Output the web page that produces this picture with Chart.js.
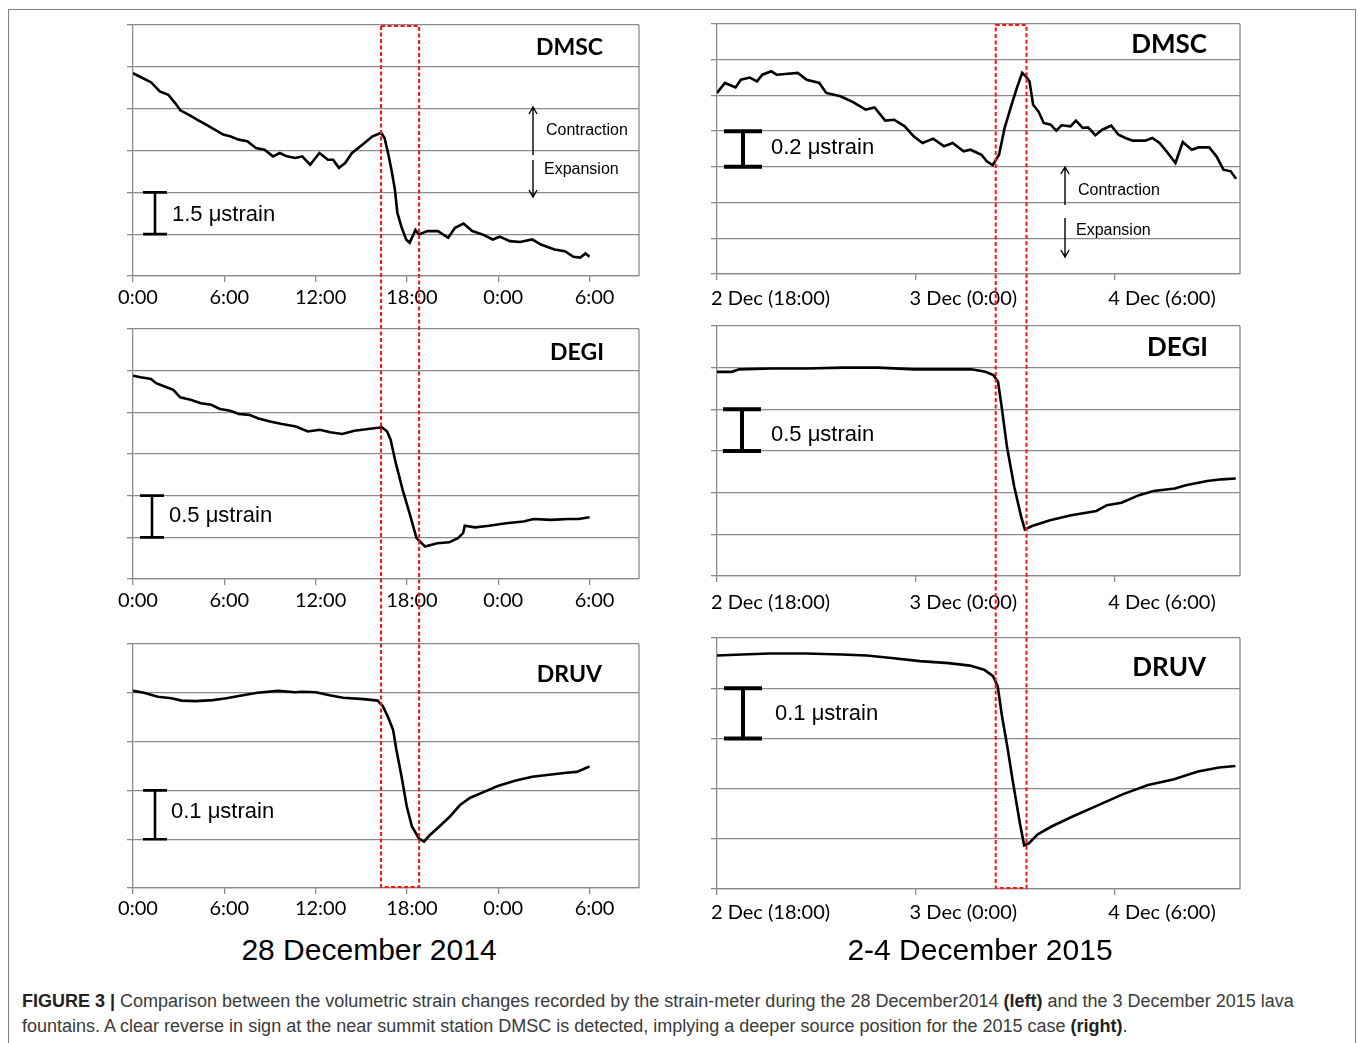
<!DOCTYPE html>
<html>
<head>
<meta charset="utf-8">
<script src="https://cdn.jsdelivr.net/npm/chart.js@4.4.0/dist/chart.umd.min.js"></script>
<style>
  body { margin: 0; background: #fff; width: 1358px; height: 1043px; overflow: hidden; position: relative;
         font-family: "Liberation Sans", Arial, sans-serif; }
  .frame { position: absolute; left: 8px; top: 9px; width: 1346px; height: 1100px; border: 1.5px solid #808080; }
  .panel { position: absolute; }
  .date { position: absolute; top: 933px; width: 400px; text-align: center; font-size: 30px; color: #000; }
  .cap { position: absolute; left: 22px; font-size: 18px; color: #3a3a3a; white-space: nowrap; }
  .cap b { color: #222; }
  #overlay { position: absolute; left: 0; top: 0; z-index: 5; pointer-events: none; }
</style>
</head>
<body>
<div class="frame"></div>
<div id="panels"></div>
<canvas id="overlay" width="1358" height="1043"></canvas>
<div class="date" style="left:169px">28 December 2014</div>
<div class="date" style="left:780px">2-4 December 2015</div>
<div class="cap" style="top:991px"><b>FIGURE 3 |</b> Comparison between the volumetric strain changes recorded by the strain-meter during the 28 December2014 <b>(left)</b> and the 3 December 2015 lava</div>
<div class="cap" style="top:1016px">fountains. A clear reverse in sign at the near summit station DMSC is detected, implying a deeper source position for the 2015 case <b>(right)</b>.</div>
<script>
// hours since 28 Dec 2014 0:00 (left column) and since 2 Dec 2015 18:00 (right column); strain in microstrain above the panel floor
var ticks2014 = ['0:00', '6:00', '12:00', '18:00', '0:00', '6:00']
var ticks2015 = ['2 Dec (18:00)', '3 Dec (0:00)', '4 Dec (6:00)']

var dmsc2014Hours = [0, 0.63, 1.2, 1.76, 2.32, 2.77, 3.11, 3.68, 4.24, 4.8,
  5.37, 5.93, 6.38, 6.95, 7.51, 8.08, 8.64, 9.2, 9.65, 10.11,
  10.67, 11.12, 11.64, 12.25, 12.81, 13.15, 13.53, 13.94, 14.39, 15.07,
  15.74, 16.31, 16.53, 16.76, 16.98, 17.21, 17.37, 17.66, 17.95, 18.18,
  18.56, 18.79, 19.35, 20.03, 20.71, 21.16, 21.72, 22.29, 22.96, 23.64,
  24.09, 24.77, 25.44, 26.23, 26.8, 27.7, 28.38, 28.94, 29.39, 29.73, 30]
var dmsc2014Strain = [7.27, 7.10, 6.94, 6.62, 6.50, 6.20, 5.94, 5.78, 5.60, 5.43,
  5.25, 5.07, 5.01, 4.89, 4.83, 4.59, 4.53, 4.29, 4.41, 4.29,
  4.23, 4.29, 3.99, 4.41, 4.17, 4.17, 3.88, 4.05, 4.41, 4.71,
  5.01, 5.13, 4.95, 4.41, 3.82, 3.10, 2.27, 1.73, 1.31, 1.19,
  1.65, 1.49, 1.61, 1.61, 1.37, 1.73, 1.88, 1.61, 1.49, 1.31,
  1.41, 1.25, 1.22, 1.31, 1.13, 0.95, 0.89, 0.69, 0.66, 0.81, 0.69]

var degi2014Hours = [0, 0.5, 1.18, 1.52, 2.08, 2.65, 3.1, 3.78, 4.46, 5.14,
  5.71, 6.39, 6.96, 7.64, 8.2, 9.0, 9.79, 10.7, 11.49, 12.28,
  12.96, 13.75, 14.55, 15.45, 16.36, 16.7, 16.93, 17.27, 17.72, 18.17,
  18.63, 19.19, 19.99, 20.78, 21.35, 21.69, 21.8, 22.48, 23.39, 24.52,
  25.65, 26.33, 27.46, 28.6, 29.28, 30]
var degi2014Strain = [2.44, 2.42, 2.40, 2.35, 2.31, 2.27, 2.18, 2.15, 2.11, 2.09,
  2.04, 2.02, 1.98, 1.97, 1.93, 1.89, 1.86, 1.83, 1.77, 1.79,
  1.76, 1.74, 1.78, 1.80, 1.82, 1.77, 1.67, 1.39, 1.07, 0.79,
  0.49, 0.39, 0.43, 0.44, 0.49, 0.55, 0.64, 0.62, 0.64, 0.67,
  0.69, 0.72, 0.71, 0.72, 0.72, 0.74]

var druv2014Hours = [0, 0.72, 1.63, 2.53, 3.2, 4.11, 5.24, 6.14, 7.04, 8.17,
  9.52, 10.65, 11.1, 12.01, 12.91, 13.81, 15.17, 16.07, 16.41, 16.75,
  17.09, 17.31, 17.65, 17.99, 18.33, 18.78, 19.12, 19.46, 20.13, 20.81,
  21.49, 22.16, 23.07, 23.97, 25.1, 26.23, 27.35, 28.48, 29.16, 30]
var druv2014Strain = [0.404, 0.400, 0.392, 0.389, 0.384, 0.383, 0.385, 0.389, 0.394, 0.400,
  0.404, 0.401, 0.402, 0.401, 0.395, 0.390, 0.387, 0.384, 0.373, 0.351,
  0.324, 0.283, 0.228, 0.167, 0.126, 0.102, 0.095, 0.107, 0.126, 0.146,
  0.170, 0.185, 0.197, 0.209, 0.220, 0.228, 0.232, 0.236, 0.238, 0.249]

var dmsc2015Hours = [0, 0.24, 0.56, 0.72, 0.99, 1.21, 1.37, 1.64, 1.8, 2.07,
  2.44, 2.71, 3.09, 3.3, 3.73, 4.11, 4.49, 4.76, 5.08, 5.35,
  5.67, 5.94, 6.21, 6.53, 6.86, 7.12, 7.45, 7.66, 7.99, 8.15,
  8.33, 8.52, 8.69, 8.9, 9.06, 9.22, 9.33, 9.44, 9.55, 9.71,
  9.87, 10.08, 10.25, 10.41, 10.68, 10.84, 11.05, 11.21, 11.43, 11.64,
  11.91, 12.13, 12.34, 12.56, 12.94, 13.15, 13.37, 13.58, 13.85, 14.07,
  14.34, 14.55, 14.87, 15.09, 15.3, 15.52, 15.68]
var dmsc2015Strain = [1.014, 1.07, 1.045, 1.088, 1.10, 1.079, 1.116, 1.135, 1.116, 1.12,
  1.126, 1.088, 1.07, 1.014, 0.995, 0.963, 0.92, 0.933, 0.859, 0.864,
  0.827, 0.771, 0.734, 0.758, 0.715, 0.734, 0.687, 0.696, 0.668, 0.631,
  0.609, 0.668, 0.818, 0.948, 1.042, 1.126, 1.107, 1.079, 0.948, 0.911,
  0.846, 0.836, 0.803, 0.833, 0.827, 0.859, 0.818, 0.821, 0.777, 0.808,
  0.831, 0.78, 0.762, 0.747, 0.747, 0.762, 0.734, 0.687, 0.622, 0.739,
  0.696, 0.709, 0.709, 0.659, 0.584, 0.575, 0.534]

var degi2015Hours = [0, 0.45, 0.67, 1.64, 2.72, 3.8, 4.88, 5.96, 7.04, 7.68,
  8.11, 8.35, 8.49, 8.6, 8.76, 8.98, 9.19, 9.3, 9.52, 10.06,
  10.7, 11.46, 11.78, 12.22, 12.75, 13.19, 13.83, 14.16, 14.81, 15.24, 15.67]
var degi2015Strain = [2.45, 2.45, 2.48, 2.49, 2.49, 2.50, 2.50, 2.48, 2.48, 2.48,
  2.45, 2.41, 2.33, 2.03, 1.55, 1.07, 0.71, 0.56, 0.60, 0.67,
  0.73, 0.78, 0.85, 0.88, 0.97, 1.02, 1.05, 1.09, 1.14, 1.16, 1.17]

var druv2015Hours = [0, 0.75, 1.61, 2.69, 3.77, 4.52, 5.27, 6.13, 7.0, 7.64,
  8.07, 8.34, 8.48, 8.61, 8.77, 8.93, 9.15, 9.28, 9.42, 9.69,
  10.12, 10.76, 11.52, 12.27, 13.02, 13.78, 14.53, 15.17, 15.66]
var druv2015Strain = [0.465, 0.467, 0.469, 0.469, 0.467, 0.465, 0.460, 0.454, 0.450, 0.445,
  0.437, 0.424, 0.404, 0.344, 0.284, 0.217, 0.131, 0.087, 0.091, 0.109,
  0.125, 0.145, 0.167, 0.189, 0.207, 0.218, 0.234, 0.242, 0.245]

// lava fountain windows (hours), drawn as the red dashed boxes
var fountain2014 = [16.3, 18.8]
var fountain2015 = [8.42, 9.35]

var GRID = '#8a8a8a'

// plot boxes are [left, top, right, bottom] in page pixels
var panels = [
  { hours: dmsc2014Hours, vals: dmsc2014Strain, box: [133, 25, 639, 276], xMax: 33.25, yMax: 9, yStep: 1.5,
    labels: ticks2014, align: 'center', offset: 5, pad: 4,
    ann: { name: 'DMSC', nameSize: 23, nameAt: [470, 23], barX: 22, barFrom: 1.5, barTo: 3.0, cap: 12, barW: 2.6,
           barLabel: '1.5 \u03bcstrain', labelAt: [39, 190],
           arrows: { x: 400, up: [130, 82], down: [135, 172], contraction: [413, 106], expansion: [411, 145] } } },
  { hours: degi2014Hours, vals: degi2014Strain, box: [133, 329, 639, 579], xMax: 33.25, yMax: 3, yStep: 0.5,
    labels: ticks2014, align: 'center', offset: 5, pad: 4,
    ann: { name: 'DEGI', nameSize: 23, nameAt: [471, 24], barX: 19, barFrom: 0.5, barTo: 1.0, cap: 12, barW: 2.6,
           barLabel: '0.5 \u03bcstrain', labelAt: [36, 187] } },
  { hours: druv2014Hours, vals: druv2014Strain, box: [133, 644, 639, 888], xMax: 33.25, yMax: 0.5, yStep: 0.1,
    labels: ticks2014, align: 'center', offset: 5, pad: 3,
    ann: { name: 'DRUV', nameSize: 23, nameAt: [469, 31], barX: 22, barFrom: 0.1, barTo: 0.2, cap: 12, barW: 2.6,
           barLabel: '0.1 \u03bcstrain', labelAt: [38, 168] } },
  { hours: dmsc2015Hours, vals: dmsc2015Strain, box: [717, 24, 1240, 274], xMax: 15.8, yMax: 1.4, yStep: 0.2,
    labels: ticks2015, align: 'start', offset: -6, pad: 7,
    ann: { name: 'DMSC', nameSize: 26, nameAt: [490, 21], barX: 26, barFrom: 0.6, barTo: 0.8, cap: 19, barW: 4,
           barLabel: '0.2 \u03bcstrain', labelAt: [54, 124],
           arrows: { x: 348, up: [181, 143], down: [194, 233], contraction: [361, 167], expansion: [359, 207] } } },
  { hours: degi2015Hours, vals: degi2015Strain, box: [717, 326, 1240, 576], xMax: 15.8, yMax: 3, yStep: 0.5,
    labels: ticks2015, align: 'start', offset: -6, pad: 9,
    ann: { name: 'DEGI', nameSize: 26, nameAt: [491, 22], barX: 25, barFrom: 1.5, barTo: 2.0, cap: 19, barW: 4,
           barLabel: '0.5 \u03bcstrain', labelAt: [54, 109] } },
  { hours: druv2015Hours, vals: druv2015Strain, box: [717, 638, 1240, 889], xMax: 15.8, yMax: 0.5, yStep: 0.1,
    labels: ticks2015, align: 'start', offset: -6, pad: 6,
    ann: { name: 'DRUV', nameSize: 26, nameAt: [489, 30], barX: 26, barFrom: 0.3, barTo: 0.4, cap: 19, barW: 4,
           barLabel: '0.1 \u03bcstrain', labelAt: [58, 76] } }
]

function arrow(ctx, x, y0, y1) {
  var d = y1 < y0 ? 1 : -1
  ctx.beginPath()
  ctx.moveTo(x, y0); ctx.lineTo(x, y1)
  ctx.moveTo(x - 4, y1 + d * 7); ctx.lineTo(x, y1); ctx.lineTo(x + 4, y1 + d * 7)
  ctx.stroke()
}

function decor(a) {
  return {
    id: 'decor',
    afterDraw: function (chart) {
      var ctx = chart.ctx, ca = chart.chartArea, ys = chart.scales.y
      ctx.save()
      // right edge of the plot box
      ctx.strokeStyle = GRID; ctx.lineWidth = 1.3
      ctx.beginPath(); ctx.moveTo(ca.right, ca.top); ctx.lineTo(ca.right, ca.bottom); ctx.stroke()

      ctx.fillStyle = '#000'
      ctx.textBaseline = 'middle'
      ctx.textAlign = 'right'
      ctx.font = 'bold ' + a.nameSize + 'px Lato, "Open Sans", sans-serif'
      ctx.fillText(a.name, ca.left + a.nameAt[0], ca.top + a.nameAt[1])

      // scale bar spans one grid step
      var bx = ca.left + a.barX, y0 = ys.getPixelForValue(a.barFrom), y1 = ys.getPixelForValue(a.barTo)
      ctx.strokeStyle = '#000'; ctx.lineWidth = a.barW
      ctx.beginPath()
      ctx.moveTo(bx, y0); ctx.lineTo(bx, y1)
      ctx.moveTo(bx - a.cap, y0); ctx.lineTo(bx + a.cap, y0)
      ctx.moveTo(bx - a.cap, y1); ctx.lineTo(bx + a.cap, y1)
      ctx.stroke()
      ctx.textAlign = 'left'
      ctx.font = '22px "Liberation Sans", Arial, sans-serif'
      ctx.fillText(a.barLabel, ca.left + a.labelAt[0], ca.top + a.labelAt[1])

      if (a.arrows) {
        var r = a.arrows
        ctx.lineWidth = 1.4
        arrow(ctx, ca.left + r.x, ca.top + r.up[0], ca.top + r.up[1])
        arrow(ctx, ca.left + r.x, ca.top + r.down[0], ca.top + r.down[1])
        ctx.font = '16px "Liberation Sans", Arial, sans-serif'
        ctx.fillText('Contraction', ca.left + r.contraction[0], ca.top + r.contraction[1])
        ctx.fillText('Expansion', ca.left + r.expansion[0], ca.top + r.expansion[1])
      }
      ctx.restore()
    }
  }
}

var PAD_L = 40, PAD_T = 8, PAD_R = 20, AXIS_H = 45
var holder = document.getElementById('panels')

var charts = panels.map(function (p) {
  var b = p.box
  var wrap = document.createElement('div')
  wrap.className = 'panel'
  wrap.style.left = (b[0] - PAD_L) + 'px'
  wrap.style.top = (b[1] - PAD_T) + 'px'
  var cv = document.createElement('canvas')
  cv.width = (b[2] - b[0]) + PAD_L + PAD_R
  cv.height = (b[3] - b[1]) + PAD_T + AXIS_H
  wrap.appendChild(cv)
  holder.appendChild(wrap)

  var n = Math.min(p.hours.length, p.vals.length)
  var pts = []
  for (var i = 0; i < n; i++) pts.push({ x: p.hours[i], y: p.vals[i] })

  var chart = new Chart(cv.getContext('2d'), {
    type: 'line',
    data: { datasets: [{ data: pts, borderColor: '#000', borderWidth: 2.6, pointRadius: 0, tension: 0, fill: false }] },
    options: {
      responsive: false,
      animation: false,
      devicePixelRatio: 1,
      layout: { padding: { top: PAD_T, right: PAD_R, left: 0, bottom: 0 } },
      plugins: { legend: { display: false }, tooltip: { enabled: false } },
      scales: {
        x: {
          type: 'linear', min: 0, max: p.xMax,
          afterFit: function (s) { s.height = AXIS_H; s.paddingLeft = 0; s.paddingRight = 0 },
          ticks: {
            stepSize: 6, includeBounds: false, autoSkip: false, maxRotation: 0, padding: p.pad,
            align: p.align, labelOffset: p.offset, color: '#000',
            font: { family: 'Lato', size: 20 },
            callback: function (v) { return p.labels[Math.round(v / 6)] }
          },
          grid: { drawOnChartArea: false, drawTicks: true, tickLength: 6, color: GRID, lineWidth: 1.3 },
          border: { display: true, color: GRID, width: 1.3 }
        },
        y: {
          min: 0, max: p.yMax,
          afterFit: function (s) { s.width = PAD_L; s.paddingTop = 0; s.paddingBottom = 0 },
          ticks: { display: false, stepSize: p.yStep },
          grid: { color: GRID, lineWidth: 1.3, tickLength: 6, drawTicks: true },
          border: { display: true, color: GRID, width: 1.3 }
        }
      }
    },
    plugins: [decor(p.ann)]
  })
  return { chart: chart, left: b[0] - PAD_L, top: b[1] - PAD_T }
})

// red dashed boxes marking the fountain episodes, across each column
var octx = document.getElementById('overlay').getContext('2d')
function fountainBox(first, last, win) {
  var x0 = first.left + first.chart.scales.x.getPixelForValue(win[0])
  var x1 = first.left + first.chart.scales.x.getPixelForValue(win[1])
  var y0 = first.top + first.chart.chartArea.top + 1
  var y1 = last.top + last.chart.chartArea.bottom - 1
  octx.save()
  octx.strokeStyle = '#ff1010'
  octx.lineWidth = 2
  octx.setLineDash([4, 2.5])
  octx.strokeRect(x0, y0, x1 - x0, y1 - y0)
  octx.restore()
}
fountainBox(charts[0], charts[2], fountain2014)
fountainBox(charts[3], charts[5], fountain2015)
</script>
</body>
</html>
